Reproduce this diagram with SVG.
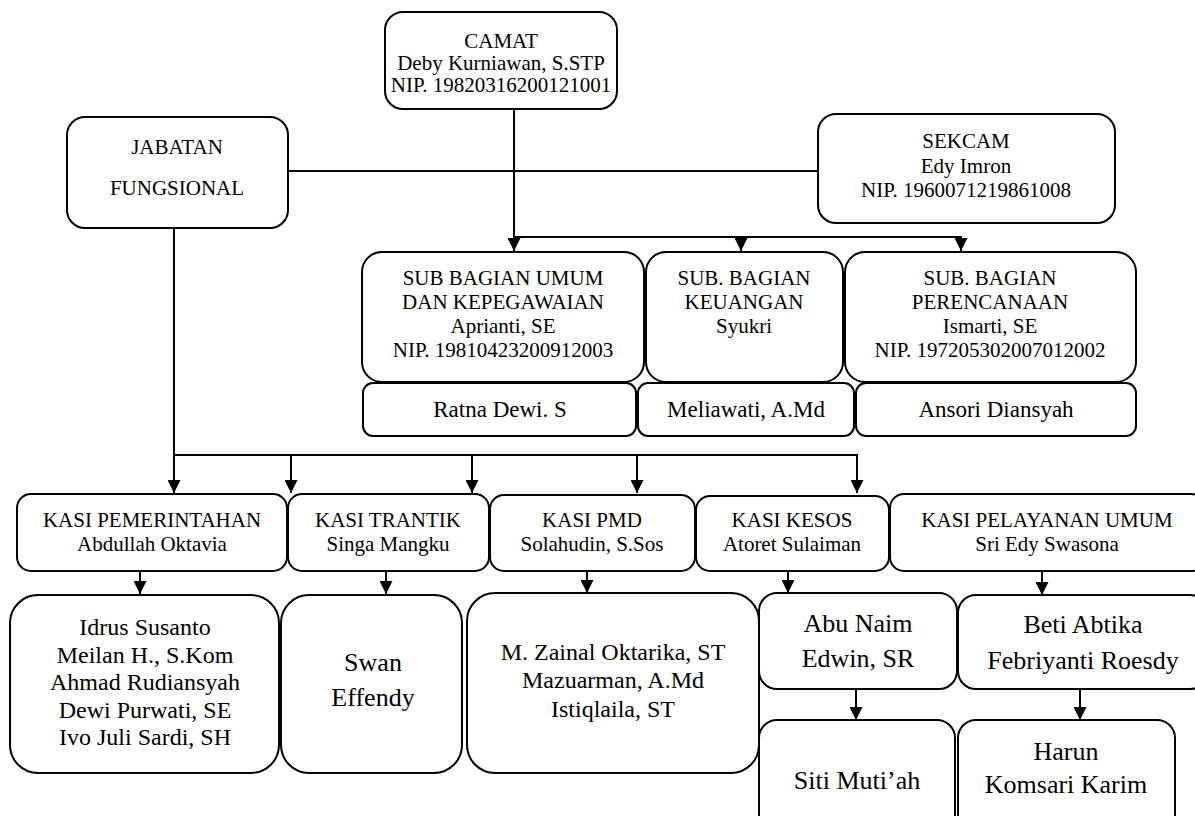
<svg xmlns="http://www.w3.org/2000/svg" width="1195" height="816" viewBox="0 0 1195 816" font-family="'Liberation Serif', 'Times New Roman', Times, serif">
<defs>
<marker id="ah" viewBox="0 0 10 10" refX="10" refY="5" markerWidth="14" markerHeight="13" markerUnits="userSpaceOnUse" orient="auto">
<path d="M0,0 L10,5 L0,10 z" fill="#000"/>
</marker>
<style>
.b{fill:#fff;stroke:#000;stroke-width:2}
.c{fill:none;stroke:#000;stroke-width:2}
.a{fill:none;stroke:#000;stroke-width:2;marker-end:url(#ah)}
text{font-family:'Liberation Serif','Times New Roman',Times,serif;font-size:21px;fill:#000;text-anchor:middle}
.m{font-size:23px}
.l{font-size:24px}
.x{font-size:26px}
</style>
</defs>
<rect width="1195" height="816" fill="#fff"/>
<g id="connectors">
<line class="c" x1="288" y1="171" x2="818" y2="171"/>
<line class="a" x1="514" y1="109" x2="514" y2="251"/>
<line class="c" x1="514" y1="237" x2="962" y2="237"/>
<line class="a" x1="741" y1="237" x2="741" y2="251"/>
<line class="a" x1="961" y1="237" x2="961" y2="251"/>
<line class="a" x1="174" y1="228" x2="174" y2="493"/>
<line class="c" x1="174" y1="455" x2="858" y2="455"/>
<line class="a" x1="291" y1="455" x2="291" y2="493"/>
<line class="a" x1="472" y1="455" x2="472" y2="493"/>
<line class="a" x1="637" y1="455" x2="637" y2="493"/>
<line class="a" x1="857" y1="455" x2="857" y2="493"/>
<line class="a" x1="140" y1="571" x2="140" y2="594"/>
<line class="a" x1="386" y1="571" x2="386" y2="594"/>
<line class="a" x1="587" y1="571" x2="587" y2="593"/>
<line class="a" x1="788" y1="571" x2="788" y2="593"/>
<line class="a" x1="1042" y1="571" x2="1042" y2="595"/>
<line class="a" x1="856" y1="689" x2="856" y2="720"/>
<line class="a" x1="1080" y1="689" x2="1080" y2="720"/>
</g>
<g id="camat">
<rect class="b" x="385" y="12" width="232" height="97" rx="18"/>
<text x="501" y="48">CAMAT</text>
<text x="501" y="70">Deby Kurniawan, S.STP</text>
<text x="501" y="92">NIP. 19820316200121001</text>
</g>
<g id="jabatan">
<rect class="b" x="67" y="117" width="221" height="111" rx="18"/>
<text x="177" y="154">JABATAN</text>
<text x="177" y="195">FUNGSIONAL</text>
</g>
<g id="sekcam">
<rect class="b" x="818" y="114" width="297" height="109" rx="18"/>
<text x="966" y="148">SEKCAM</text>
<text x="966" y="173">Edy Imron</text>
<text x="966" y="197">NIP. 1960071219861008</text>
</g>
<g id="subumum">
<rect class="b" x="362" y="252" width="282" height="130" rx="20"/>
<text x="503" y="285">SUB BAGIAN UMUM</text>
<text x="503" y="309">DAN KEPEGAWAIAN</text>
<text x="503" y="333">Aprianti, SE</text>
<text x="503" y="357">NIP. 19810423200912003</text>
</g>
<g id="subkeuangan">
<rect class="b" x="646" y="252" width="197" height="130" rx="20"/>
<text x="744" y="285">SUB. BAGIAN</text>
<text x="744" y="309">KEUANGAN</text>
<text x="744" y="333">Syukri</text>
</g>
<g id="subperencanaan">
<rect class="b" x="845" y="252" width="291" height="130" rx="20"/>
<text x="990" y="285">SUB. BAGIAN</text>
<text x="990" y="309">PERENCANAAN</text>
<text x="990" y="333">Ismarti, SE</text>
<text x="990" y="357">NIP. 197205302007012002</text>
</g>
<g id="ratna">
<rect class="b" x="363" y="383" width="273" height="53" rx="10"/>
<text class="m" x="500" y="417">Ratna Dewi. S</text>
</g>
<g id="meliawati">
<rect class="b" x="638" y="383" width="216" height="53" rx="10"/>
<text class="m" x="746" y="417">Meliawati, A.Md</text>
</g>
<g id="ansori">
<rect class="b" x="856" y="383" width="280" height="53" rx="10"/>
<text class="m" x="996" y="417">Ansori Diansyah</text>
</g>
<g id="kasipemerintahan">
<rect class="b" x="17" y="494" width="270" height="77" rx="14"/>
<text x="152" y="527">KASI PEMERINTAHAN</text>
<text x="152" y="551">Abdullah Oktavia</text>
</g>
<g id="kasitrantik">
<rect class="b" x="288" y="494" width="201" height="77" rx="14"/>
<text x="388" y="527">KASI TRANTIK</text>
<text x="388" y="551">Singa Mangku</text>
</g>
<g id="kasipmd">
<rect class="b" x="490" y="495" width="205" height="76" rx="14"/>
<text x="592" y="527">KASI PMD</text>
<text x="592" y="551">Solahudin, S.Sos</text>
</g>
<g id="kasikesos">
<rect class="b" x="696" y="496" width="193" height="75" rx="14"/>
<text x="792" y="527">KASI KESOS</text>
<text x="792" y="551">Atoret Sulaiman</text>
</g>
<g id="kasipelayanan">
<rect class="b" x="890" y="494" width="315" height="77" rx="14"/>
<text x="1047" y="527">KASI PELAYANAN UMUM</text>
<text x="1047" y="551">Sri Edy Swasona</text>
</g>
<g id="staffpemerintahan">
<rect class="b" x="10" y="595" width="269" height="178" rx="28"/>
<text class="l" x="145" y="635">Idrus Susanto</text>
<text class="l" x="145" y="663">Meilan H., S.Kom</text>
<text class="l" x="145" y="690">Ahmad Rudiansyah</text>
<text class="l" x="145" y="718">Dewi Purwati, SE</text>
<text class="l" x="145" y="745">Ivo Juli Sardi, SH</text>
</g>
<g id="stafftrantik">
<rect class="b" x="281" y="595" width="181" height="178" rx="28"/>
<text class="x" x="373" y="671">Swan</text>
<text class="x" x="373" y="706">Effendy</text>
</g>
<g id="staffpmd">
<rect class="b" x="467" y="593" width="292" height="180" rx="28"/>
<text class="l" x="613" y="660">M. Zainal Oktarika, ST</text>
<text class="l" x="613" y="688">Mazuarman, A.Md</text>
<text class="l" x="613" y="717">Istiqlaila, ST</text>
</g>
<g id="staffkesos1">
<rect class="b" x="759" y="593" width="198" height="96" rx="18"/>
<text class="x" x="858" y="632">Abu Naim</text>
<text class="x" x="858" y="667">Edwin, SR</text>
</g>
<g id="staffpelayanan1">
<rect class="b" x="958" y="595" width="250" height="94" rx="18"/>
<text class="x" x="1083" y="633">Beti Abtika</text>
<text class="x" x="1083" y="669">Febriyanti Roesdy</text>
</g>
<g id="staffkesos2">
<rect class="b" x="759" y="720" width="196" height="120" rx="18"/>
<text class="x" x="857" y="789">Siti Muti’ah</text>
</g>
<g id="staffpelayanan2">
<rect class="b" x="958" y="720" width="217" height="120" rx="18"/>
<text class="x" x="1066" y="760">Harun</text>
<text class="x" x="1066" y="793">Komsari Karim</text>
</g>
</svg>
